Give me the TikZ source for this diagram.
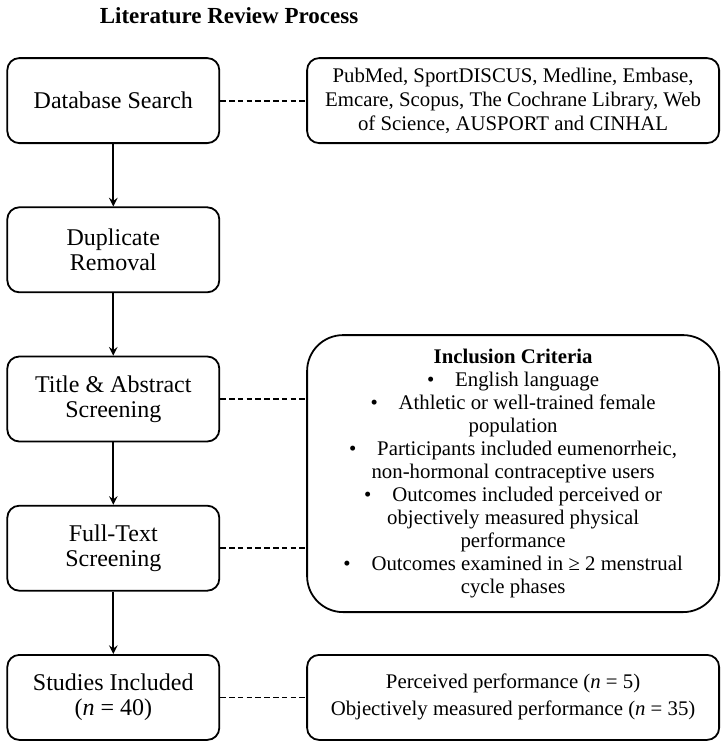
\documentclass[tikz,border=0pt]{standalone}
\usepackage{fontspec}
\setmainfont{Liberation Serif}
\usetikzlibrary{positioning, arrows}
\tikzset{
	>=stealth, % arrow heads of the flow
	node distance=31.2pt and 43pt, % gap between the boxes (down and right)
	stage/.style={draw, rounded corners=6pt, minimum width=106pt, minimum height=42.5pt, align=center, inner sep=1pt, font=\fontsize{12}{12.5}\selectfont}, % steps on the left
	info/.style={stage, minimum width=206pt, font=\fontsize{10.4}{11.5}\selectfont}, % boxes on the right
	link/.style={dash pattern=on 2.8pt off 1.6pt}, % dashed links
}

\begin{document}
\begin{tikzpicture}[line width=0.9pt]
		\useasboundingbox (0,0) rectangle (361.5pt,-375pt);
		\node[font=\bfseries\fontsize{11.5}{12}\selectfont] (head) at (114.5pt,-8pt) {Literature Review Process};
		
		\node[stage, anchor=north west] (search) at (3.2pt,-28.6pt) {Database Search};
		\node[stage, below=of search] (dup) {Duplicate\\Removal};
		\node[stage, below=of dup] (tas) {Title \& Abstract\\Screening};
		\node[stage, below=of tas] (fts) {Full-Text\\Screening};
		\node[stage, below=of fts] (incl) {Studies Included\\(\textit{n} = 40)};
		
		\node[info, right=of search, font=\fontsize{10.4}{12}\selectfont] (dbs) {PubMed, SportDISCUS, Medline, Embase,\\Emcare, Scopus, The Cochrane Library, Web\\of Science, AUSPORT and CINHAL};
		\path (tas.east) -- (fts.east) coordinate[midway] (mid);
		\node[info, right=of mid, minimum height=138.5pt, rounded corners=18pt] (crit) {\textbf{Inclusion Criteria}\\
			\textbullet\quad English language\\
			\textbullet\quad Athletic or well-trained female\\population\\
			\textbullet\quad Participants included eumenorrheic,\\non-hormonal contraceptive users\\
			\textbullet\quad Outcomes included perceived or\\objectively measured physical\\performance\\
			\textbullet\quad Outcomes examined in ≥ 2 menstrual\\cycle phases};
		\node[info, right=of incl, font=\fontsize{10.4}{13.5}\selectfont] (res) {Perceived performance (\textit{n} = 5)\\Objectively measured performance (\textit{n} = 35)};
		
		\draw[->] (search) -- (dup);
		\draw[->] (dup) -- (tas);
		\draw[->] (tas) -- (fts);
		\draw[->] (fts) -- (incl);
		%
		\draw[link] (search) -- (dbs);
		\draw[link] (tas) -- (tas -| crit.west);
		\draw[link] (fts) -- (fts -| crit.west);
		\draw[link] (incl) -- (res);
	\end{tikzpicture}
\end{document}
